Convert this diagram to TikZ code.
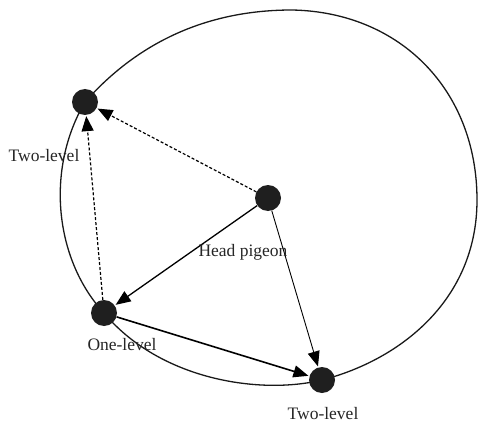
\documentclass[tikz,border=0pt]{standalone}
\usepackage{fontspec}
\setmainfont{Liberation Serif}
\usetikzlibrary{arrows.meta,backgrounds}
\begin{document}
\begin{tikzpicture}[x=1pt,y=-1pt,
  bird/.style={circle,fill=black!88,inner sep=0pt,minimum size=26pt},
  lbl/.style={font=\fontsize{17.5}{20}\selectfont,text=black!85,inner sep=0pt},
  tip/.style={-{Triangle[length=15pt,width=12pt]},shorten >=1pt},
  dsh/.style={tip,line width=1.2pt,dash pattern=on 3pt off 2pt}]
\useasboundingbox (0,0) rectangle (479,425);
\node[bird] (A) at (85,102) {};
\node[bird] (H) at (268,198) {};
\node[bird] (O) at (104,313) {};
\node[bird] (B) at (322,380) {};
\coordinate (T) at (292,10);
\coordinate (R) at (477,200);
\begin{scope}[on background layer]
\draw[line width=1.3pt,black!90]
  (A.center) .. controls (140,40) and (210,10) .. (T)
  .. controls (400,12) and (477,90) .. (R)
  .. controls (477,300) and (400,360) .. (B.center)
  .. controls (260,395) and (160,380) .. (O.center)
  .. controls (55,260) and (45,170) .. (A.center);
\end{scope}
\draw[dsh] (H) -- (A);
\draw[dsh] (O) -- (A);
\draw[tip,line width=1.3pt] (H) -- (O);
\draw[tip,line width=0.9pt] (H) -- (B);
\draw[tip,line width=1.6pt] (O) -- (B);
\node[lbl] (tA) at (44,156) {Two-level};
\node[lbl] (tH) at (243,252) {Head pigeon};
\node[lbl] (tO) at (122,345) {One-level};
\node[lbl] (tB) at (323,414) {Two-level};
\end{tikzpicture}
\end{document}
